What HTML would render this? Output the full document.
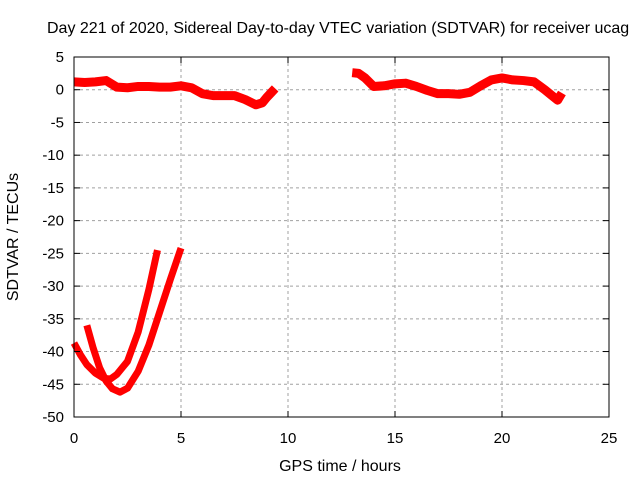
<!DOCTYPE html>
<html><head><meta charset="utf-8"><style>
body{margin:0;background:#fff}
svg text{font-family:"Liberation Sans",sans-serif;font-size:15px;fill:#000}
svg text.big{font-size:16px}
</style></head><body>
<svg id="c" width="640" height="480" xmlns="http://www.w3.org/2000/svg">
<text class="big" x="47" y="33">Day 221 of 2020, Sidereal Day-to-day VTEC variation (SDTVAR) for receiver ucag</text>
<text class="big" x="340" y="471" text-anchor="middle">GPS time / hours</text>
<text class="big" transform="translate(18,237) rotate(-90)" text-anchor="middle">SDTVAR / TECUs</text>
<g id="grid"></g><g id="series"></g>
<rect x="74" y="57" width="535" height="360" fill="none" stroke="#000"/>
<g id="ticks"></g>
</svg>
<script>
const xTicks=[0,5,10,15,20,25];
const yTicks=[5,0,-5,-10,-15,-20,-25,-30,-35,-40,-45,-50];
const seg1T=[0,0.5,1,1.5,2,2.5,3,3.5,4,4.5,5,5.5,6,6.5,7,7.5,8,8.5,8.8,9,9.2,9.4];
const seg1V=[1.2,1.1,1.2,1.4,0.4,0.3,0.5,0.5,0.4,0.4,0.6,0.3,-0.6,-0.9,-0.9,-0.9,-1.5,-2.3,-2,-1.2,-0.5,0.2];
const seg2T=[13,13.3,13.6,14,14.5,15,15.5,16,16.5,17,17.5,18,18.5,19,19.5,20,20.5,21,21.5,22,22.3,22.6,22.8];
const seg2V=[2.6,2.5,1.8,0.5,0.6,0.9,1,0.5,-0.1,-0.6,-0.6,-0.7,-0.4,0.6,1.5,1.8,1.5,1.4,1.2,0,-0.8,-1.6,-0.5];
const curveAT=[0,0.3,0.6,1,1.4,1.7,2,2.5,3,3.5,3.9];
const curveAV=[-38.7,-40.5,-42,-43.3,-44.1,-44.2,-43.5,-41.5,-37,-30.5,-24.5];
const curveBT=[0.6,0.9,1.2,1.5,1.8,2.15,2.5,3,3.5,4,4.5,5];
const curveBV=[-36,-39.5,-42.5,-44.5,-45.7,-46.2,-45.6,-43,-39,-34,-29,-24.2];
const X=t=>74+t*535/25, Y=v=>57+(5-v)*360/55;
const NS='http://www.w3.org/2000/svg';
function mk(tag,attrs,parent){const e=document.createElementNS(NS,tag);for(const k in attrs)e.setAttribute(k,attrs[k]);document.getElementById(parent).appendChild(e);return e;}
xTicks.forEach(t=>{
 if(t>0&&t<25){const g=mk('line',{x1:X(t),x2:X(t),y1:57,y2:417,stroke:'#a0a0a0','stroke-dasharray':'3,3'},'grid');
 
 }
 const tk=mk('line',{x1:X(t),x2:X(t),y1:417,y2:411,stroke:'#000'},'ticks');
 
 
 const tk2=mk('line',{x1:X(t),x2:X(t),y1:57,y2:63,stroke:'#000'},'ticks');
 
 
 const l=mk('text',{x:X(t),y:443,'text-anchor':'middle'},'ticks');l.textContent=t;
 
 
});
yTicks.forEach(v=>{
 if(v<5&&v>-50){const g=mk('line',{x1:74,x2:609,y1:Y(v),y2:Y(v),stroke:'#a0a0a0','stroke-dasharray':'3,3'},'grid');
 
 }
 const tk=mk('line',{x1:74,x2:80,y1:Y(v),y2:Y(v),stroke:'#000'},'ticks');
 
 
 const tk2=mk('line',{x1:603,x2:609,y1:Y(v),y2:Y(v),stroke:'#000'},'ticks');
 
 
 const l=mk('text',{x:64,y:Y(v)+5,'text-anchor':'end'},'ticks');l.textContent=v;
 
 
});
function line(ts,vs,name,w){
 const p=mk('polyline',{points:ts.map((t,i)=>X(t)+','+Y(vs[i])).join(' '),fill:'none',stroke:'#ff0000','stroke-width':w,'stroke-linejoin':'round'},'series');
 
 
}
line(seg1T,seg1V,'series-segment-1',9);
line(seg2T,seg2V,'series-segment-2',9);
line(curveAT,curveAV,'series-curve-a',7);
line(curveBT,curveBV,'series-curve-b',7);
</script>
</body></html>
